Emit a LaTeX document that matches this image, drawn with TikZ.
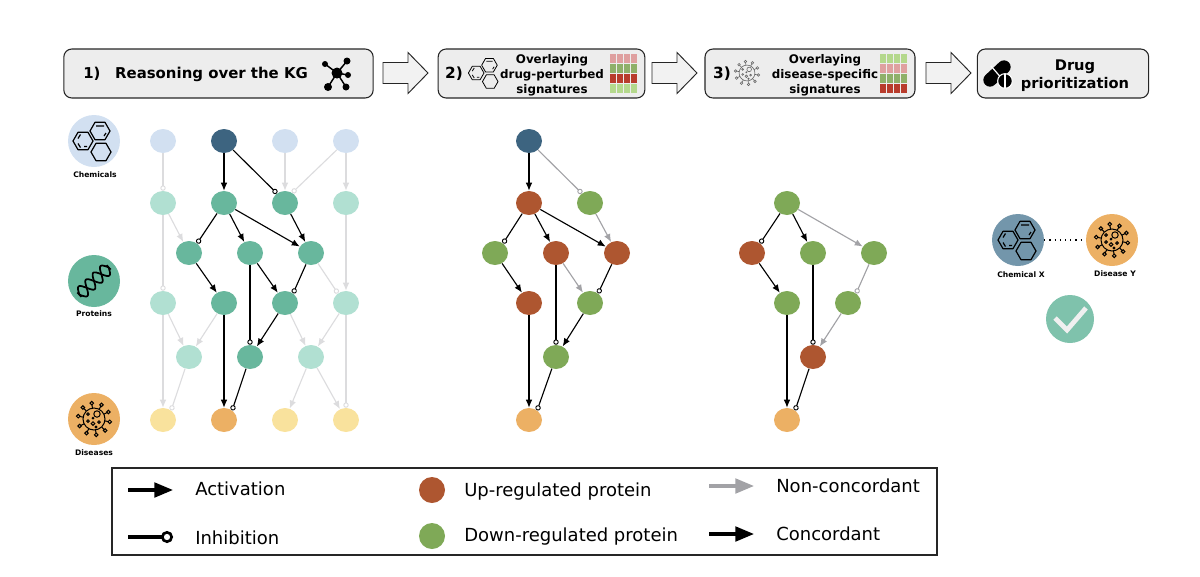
\documentclass[tikz,border=0pt]{standalone}
\usepackage{fontspec}
\setmainfont{DejaVu Sans}
\usetikzlibrary{arrows.meta,shapes.geometric}
\definecolor{chemdark}{HTML}{3D6480}
\definecolor{chemlight}{HTML}{D2E0F1}
\definecolor{chemmid}{HTML}{7396AB}
\definecolor{protdark}{HTML}{68B79D}
\definecolor{protlight}{HTML}{B1E0D2}
\definecolor{disdark}{HTML}{ECB064}
\definecolor{dislight}{HTML}{F9E29D}
\definecolor{upreg}{HTML}{AE5630}
\definecolor{downreg}{HTML}{7FA957}
\definecolor{edgeoff}{HTML}{DCDCDE}
\definecolor{edgegrey}{HTML}{A2A2A6}
\definecolor{heatpink}{HTML}{DFA0A0}
\definecolor{heatgreen}{HTML}{8FB06A}
\definecolor{heatred}{HTML}{B83C2C}
\definecolor{heatlime}{HTML}{B4D88C}
\newcommand{\hexring}[3]{
    \draw[#3] (#1) +(0:#2) -- +(60:#2) -- +(120:#2) -- +(180:#2) -- +(240:#2) -- +(300:#2) -- cycle;
}
\newcommand{\chemicon}[4]{
    \begin{scope}[shift={(#1,#2)},scale=#3,line width=#4,line join=round]
        \hexring{-10,0}{10}{}
        \hexring{7,-10}{10}{}
        \hexring{8,11}{10}{}
        \draw (-15,-2.5) -- (-12.5,-6.5) (-15,2.5) -- (-12.5,6.5) (-6,5.5) -- (-9,5.5);
        \draw (3,-15) -- (11,-15) (13,-8) -- (11,-5);
    \end{scope}
}
\newcommand{\virusicon}[4]{
    \begin{scope}[shift={(#1,#2)},scale=#3,#4]
        \draw (0,0) circle (11);
        \foreach \ang in {10,46,82,118,154,190,226,262,298,334} {
            \draw (\ang:11) -- (\ang:14.5);
            \draw (\ang:16) circle (1.8);
        }
        \draw (3,-5) circle (3.2);
        \draw (-6,-5) circle (1.3) (-6,2) circle (1.3) (-1,4.5) circle (1.8) (5,3) circle (1.3) (-1,-1) circle (.8) (2,8) circle (.9);
    \end{scope}
}
\begin{document}
\begin{tikzpicture}[x=.75pt,y=-.75pt,node distance=45.75pt,
    stepbox/.style={draw=black!85,fill=black!7,rounded corners=6pt,line width=.8pt,minimum height=36.75pt,inner sep=0pt},
    steptext/.style={font=\bfseries\fontsize{8.9}{11.25}\selectfont,align=center,inner sep=0pt},
    flowarrow/.style={draw=black!85,fill=black!5,line width=.7pt},
    dot/.style={ellipse,minimum width=19.5pt,minimum height=18pt,inner sep=0pt},
    chemon/.style={dot,fill=chemdark},chemoff/.style={dot,fill=chemlight},
    proton/.style={dot,fill=protdark},protoff/.style={dot,fill=protlight},
    dison/.style={dot,fill=disdark},disoff/.style={dot,fill=dislight},
    upnode/.style={dot,fill=upreg},downnode/.style={dot,fill=downreg},
    badge/.style={circle,minimum size=39pt,inner sep=0pt},
    caption/.style={font=\bfseries\fontsize{5.7}{7}\selectfont,inner sep=0pt},
    legendtext/.style={font=\fontsize{13.5}{15}\selectfont,anchor=west,inner sep=0pt},
    legenddot/.style={circle,minimum size=19.5pt,inner sep=0pt},
    act/.style={-{Latex[length=6pt,width=5pt]},line width=.85pt,black},
    inh/.style={-{Circle[length=4pt,width=4pt,fill=white,line width=.7pt]},line width=.85pt,black},
    offact/.style={-{Latex[length=6pt,width=5pt]},line width=.85pt,edgeoff},
    offinh/.style={-{Circle[length=4pt,width=4pt,fill=white,line width=.7pt]},line width=.85pt,edgeoff},
    greyact/.style={-{Latex[length=6pt,width=5pt]},line width=.85pt,edgegrey},
    greyinh/.style={-{Circle[length=4pt,width=4pt,fill=white,line width=.7pt]},line width=.85pt,edgegrey},
    legendact/.style={-{Triangle[length=14pt,width=11pt]},line width=2.3pt,black},
    legendgrey/.style={-{Triangle[length=14pt,width=11pt]},line width=2.3pt,edgegrey},
    legendinh/.style={-{Circle[length=9pt,width=9pt,fill=white,line width=2pt]},line width=2.3pt,black}]
    \useasboundingbox (0,0) rectangle (1200,576);

    \node[stepbox,minimum width=232pt] (kgbox) at (218.5,73.5) {};
    \node[stepbox,minimum width=155pt] (drugbox) at (541.5,73.5) {};
    \node[stepbox,minimum width=157.5pt] (disbox) at (810,73.5) {};
    \node[stepbox,minimum width=128.5pt] (priobox) at (1063,73.5) {};
    \foreach \ax in {383,652,926} {
        \draw[flowarrow] (\ax,62.5) -- ++(25,0) -- ++(0,-10) -- ++(20,20.5) -- ++(-20,20.5) -- ++(0,-10) -- ++(-25,0) -- cycle;
    }
    \node[steptext,font=\bfseries\fontsize{11.2}{12}\selectfont,anchor=west] (kgtext) at (83,74.5) {1)\hspace{11pt}Reasoning over the KG};
    \node[steptext,font=\bfseries\fontsize{11.5}{12}\selectfont] (drugnum) at (454,74) {2)};
    \node[steptext] (drugtext) at (552,75.5) {Overlaying\\drug-perturbed\\signatures};
    \node[steptext,font=\bfseries\fontsize{11.5}{12}\selectfont] (disnum) at (722,74) {3)};
    \node[steptext] (distext) at (825,75.5) {Overlaying\\disease-specific\\signatures};
    \node[steptext,font=\bfseries\fontsize{11}{13.5}\selectfont] (priotext) at (1075,75.5) {Drug\\prioritization};

    \coordinate (hub) at (337,73);
    \foreach \sx/\sy/\sr in {325/64/3,347/61/3.5,348/75/3,346/87/3.5,328/87/4} {
        \draw[line width=1.1pt] (hub) -- (\sx,\sy);
        \fill (\sx,\sy) circle (\sr);
    }
    \fill (hub) circle (5.5);

    \chemicon{484}{73}{.78}{.6pt}
    \virusicon{747}{73}{.72}{draw=black!60,line width=.45pt}
    \foreach \col in {613,620,627,634} {
        \foreach \row/\shade in {58/heatpink,68.5/heatgreen,78.5/heatred,88.5/heatlime} {
            \fill[\shade] (\col-3,\row-4.5) rectangle (\col+3,\row+4.5);
        }
    }
    \foreach \col in {883,890,897,904} {
        \foreach \row/\shade in {58/heatlime,68.5/heatpink,78.5/heatgreen,88.5/heatred} {
            \fill[\shade] (\col-3,\row-4.5) rectangle (\col+3,\row+4.5);
        }
    }
    \draw[line cap=round,line width=10pt,black] (990,80) -- (1004,67);
    \draw[white,line width=.9pt] (991,66) -- (1003,80);
    \node[circle,fill=black,draw=white,line width=.8pt,minimum size=11pt,inner sep=0pt] (tablet) at (1005,81) {};
    \draw[white,line width=1.1pt] (1005,74) -- (1005,88);

    \node[badge,fill=chemlight] (chembadge) at (94,141) {};
    \node[badge,fill=protdark] (protbadge) at (94,281) {};
    \node[badge,fill=disdark] (disbadge) at (94,419) {};
    \chemicon{93}{141}{1}{.9pt}
    \begin{scope}[shift={(94,281)},rotate=43,line width=1.3pt,line join=round]
        \draw plot[domain=-20:20,samples=50,smooth] (\x,{6.5*sin(\x*18)});
        \draw plot[domain=-20:20,samples=50,smooth] (\x,{-6.5*sin(\x*18)});
        \draw (-20,-3) -- (-20,3) (20,-3) -- (20,3);
    \end{scope}
    \virusicon{94}{419}{1}{line width=.75pt}
    \node[caption] (chemlabel) at (95,175) {Chemicals};
    \node[caption] (protlabel) at (94,313.5) {Proteins};
    \node[caption] (dislabel) at (94,452.5) {Diseases};

    \node[chemoff] (c1) at (163,141) {};
    \node[chemon] (c2) [right of=c1] {};
    \node[chemoff] (c3) [right of=c2] {};
    \node[chemoff] (c4) [right of=c3] {};
    \node[protoff] (p1) [below of=c1,node distance=46.5pt] {};
    \node[proton] (p2) [right of=p1] {};
    \node[proton] (p3) [right of=p2] {};
    \node[protoff] (p4) [right of=p3] {};
    \node[proton] (q1) at (189,253) {};
    \node[proton] (q2) [right of=q1] {};
    \node[proton] (q3) [right of=q2] {};
    \node[protoff] (r1) [below of=p1,node distance=75pt] {};
    \node[proton] (r2) [right of=r1] {};
    \node[proton] (r3) [right of=r2] {};
    \node[protoff] (r4) [right of=r3] {};
    \node[protoff] (s1) [below of=q1,node distance=78pt] {};
    \node[proton] (s2) [right of=s1] {};
    \node[protoff] (s3) [right of=s2] {};
    \node[disoff] (d1) [below of=r1,node distance=87.75pt] {};
    \node[dison] (d2) [right of=d1] {};
    \node[disoff] (d3) [right of=d2] {};
    \node[disoff] (d4) [right of=d3] {};
    \path
        (c1) edge [offinh] (p1)
        (c3) edge [offact] (p3)
        (c4) edge [offinh] (p3.55)
             edge [offact] (p4)
        (p1) edge [offinh] (r1)
             edge [offact] (q1)
        (p4) edge [offact] (r4)
        (q3) edge [offinh] (r4.130)
        (r1) edge [offact] (d1)
             edge [offact] (s1)
        (r2) edge [offact] (s1)
        (r3) edge [offact] (s3)
        (r4) edge [offact] (s3)
             edge [offinh] (d4)
        (s1) edge [offinh] (d1.50)
        (s3) edge [offact] (d3)
             edge [offact] (d4)
        (c2) edge [act] (p2)
             edge [inh] (p3.130)
        (p2) edge [inh] (q1.50)
             edge [act] (q2)
             edge [act] (q3)
        (p3) edge [act] (q3)
        (q1) edge [act] (r2)
        (q2) edge [act] (r3)
             edge [inh] (s2)
        (q3) edge [inh] (r3.50)
        (r3) edge [act] (s2)
        (r2) edge [act] (d2)
        (s2) edge [inh] (d2.50)
    ;

    \node[chemon] (f0) at (529,141) {};
    \node[upnode] (f1) [below of=f0,node distance=46.5pt] {};
    \node[downnode] (f2) [right of=f1] {};
    \node[downnode] (g1) at (495,253) {};
    \node[upnode] (g2) [right of=g1] {};
    \node[upnode] (g3) [right of=g2] {};
    \node[upnode] (h1) [below of=f1,node distance=75pt] {};
    \node[downnode] (h2) [right of=h1] {};
    \node[downnode] (k1) [below of=g2,node distance=78pt] {};
    \node[dison] (m1) [below of=h1,node distance=87.75pt] {};
    \path
        (f0) edge [act] (f1)
             edge [greyinh] (f2.130)
        (f1) edge [inh] (g1.50)
             edge [act] (g2)
             edge [act] (g3)
        (f2) edge [greyact] (g3)
        (g1) edge [act] (h1)
        (g2) edge [greyact] (h2)
             edge [inh] (k1)
        (g3) edge [inh] (h2.50)
        (h2) edge [act] (k1)
        (h1) edge [act] (m1)
        (k1) edge [inh] (m1.50)
    ;

    \node[downnode] (t1) at (787,203) {};
    \node[upnode] (u1) at (752,253) {};
    \node[downnode] (u2) [right of=u1] {};
    \node[downnode] (u3) [right of=u2] {};
    \node[downnode] (v1) [below of=t1,node distance=75pt] {};
    \node[downnode] (v2) [right of=v1] {};
    \node[upnode] (w1) [below of=u2,node distance=78pt] {};
    \node[dison] (z1) [below of=v1,node distance=87.75pt] {};
    \path
        (t1) edge [inh] (u1.50)
             edge [act] (u2)
             edge [greyact] (u3)
        (u1) edge [act] (v1)
        (u2) edge [inh] (w1)
        (u3) edge [greyinh] (v2.50)
        (v2) edge [greyact] (w1)
        (v1) edge [act] (z1)
        (w1) edge [inh] (z1.50)
    ;

    \node[badge,fill=chemmid] (chemx) at (1018,240) {};
    \node[badge,fill=disdark] (disy) at (1112,240) {};
    \draw[dash pattern=on .9pt off 3pt,line width=.9pt] (chemx) -- (disy);
    \chemicon{1018}{240}{1}{.9pt}
    \virusicon{1112}{240}{1}{line width=.75pt}
    \node[caption] (chemxlabel) at (1021,275) {Chemical X};
    \node[caption] (disylabel) at (1115,273.5) {Disease Y};
    \node[circle,fill=protdark!85,minimum size=36pt,inner sep=0pt] (okbadge) at (1070,319) {};
    \draw[black!6,line width=3.6pt] (1055,318) -- (1067,330) -- (1086,308);

    \node[draw=black!85,line width=.8pt,minimum width=618.75pt,minimum height=65.25pt,inner sep=0pt] (legendbox) at (524.5,511.5) {};
    \coordinate (actfrom) at (128,490);
    \coordinate (actto) at (173,490);
    \coordinate (inhfrom) at (128,537);
    \coordinate (inhto) at (173,537);
    \coordinate (ncfrom) at (709,486);
    \coordinate (ncto) at (754,486);
    \coordinate (cfrom) at (709,534);
    \coordinate (cto) at (754,534);
    \draw[legendact] (actfrom) -- (actto);
    \draw[legendinh] (inhfrom) -- (inhto);
    \draw[legendgrey] (ncfrom) -- (ncto);
    \draw[legendact] (cfrom) -- (cto);
    \node[legenddot,fill=upreg] (updot) at (432,490) {};
    \node[legenddot,fill=downreg] (downdot) at (432,536) {};
    \node[legendtext] (acttext) at (195,489) {Activation};
    \node[legendtext] (inhtext) at (195,538) {Inhibition};
    \node[legendtext] (uptext) at (464,491.5) {Up-regulated protein};
    \node[legendtext] (downtext) at (464,536.5) {Down-regulated protein};
    \node[legendtext] (nctext) at (776,486) {Non-concordant};
    \node[legendtext] (ctext) at (776,534) {Concordant};
\end{tikzpicture}
\end{document}
